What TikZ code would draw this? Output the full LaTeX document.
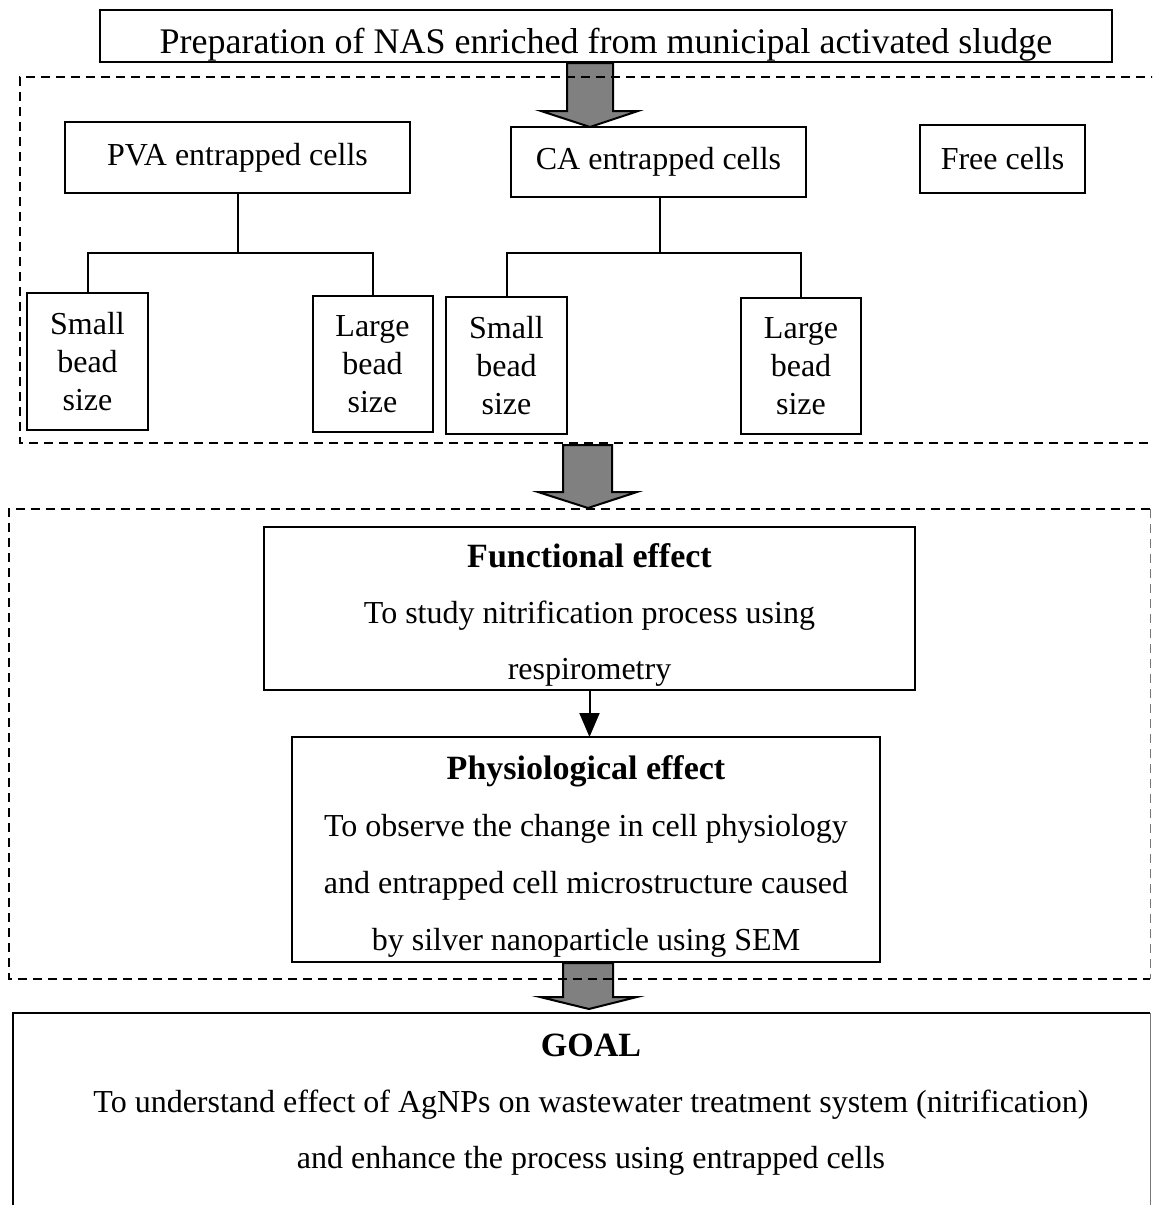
\documentclass[tikz,border=0pt]{standalone}
\usepackage{fontspec}
\setmainfont{Liberation Serif}
\usetikzlibrary{arrows.meta}
\definecolor{arrowgray}{RGB}{128,128,128}
\definecolor{edgegray}{RGB}{120,120,120}
\begin{document}
\begin{tikzpicture}[x=1pt,y=-1pt,
  rbox/.style={draw,line width=2pt,inner sep=0pt,outer sep=0pt,align=center,font=\fontsize{32}{38}\selectfont},
  plain/.style={inner sep=0pt,outer sep=0pt,align=center},
  dashframe/.style={dash pattern=on 9pt off 6pt,line width=1.8pt},
  blockarrow/.style={fill=arrowgray,draw=black,line width=2pt,line join=miter},
  tree/.style={line width=2pt},
  head/.style={font=\fontsize{34}{56}\selectfont\bfseries},
]
\useasboundingbox (0,0) rectangle (1152,1205);
\fill[white] (0,0) rectangle (1152,1205);
\clip (0,0) rectangle (1152,1205);

% block arrows
\draw[blockarrow] (567,63) -- (613,63) -- (613,111) -- (638,111) -- (590,127) -- (541,111) -- (567,111) -- cycle;
\draw[blockarrow] (563,445) -- (612,445) -- (612,492) -- (637,492) -- (588,508) -- (538,492) -- (563,492) -- cycle;
\draw[blockarrow] (563,963) -- (613,963) -- (613,997) -- (637,997) -- (589,1009) -- (540,997) -- (563,997) -- cycle;

% top box
\node[rbox,minimum width=1012pt,minimum height=52pt] (top) at (606,36) {};
\node[plain,font=\fontsize{36}{40}\selectfont] (toptxt) at (606,45) {Preparation of NAS enriched from municipal activated sludge};

% entrapment boxes
\node[rbox,minimum width=345pt,minimum height=71pt] (pva) at (237.5,157.5) {PVA entrapped cells};
\node[rbox,minimum width=295pt,minimum height=70pt] (ca) at (658.5,162) {CA entrapped cells};
\node[rbox,minimum width=165pt,minimum height=68pt] (free) at (1002.5,159) {Free cells};

\node[rbox,minimum width=121pt,minimum height=137pt] (s1) at (87.5,361.5) {Small\\bead\\size};
\node[rbox,minimum width=120pt,minimum height=136pt] (l1) at (372.5,364) {Large\\bead\\size};
\node[rbox,minimum width=121pt,minimum height=137pt] (s2) at (506.5,365.5) {Small\\bead\\size};
\node[rbox,minimum width=120pt,minimum height=136pt] (l2) at (801,366) {Large\\bead\\size};

% trees
\coordinate (j1) at (237.5,253);
\coordinate (j2) at (660,253);
\draw[tree] (pva.south) -- (j1);
\draw[tree] (s1.north) |- (j1) -| (l1.north);
\draw[tree] (ca.south -| j2) -- (j2);
\draw[tree] (s2.north) |- (j2) -| (l2.north);

% functional & physiological
\node[rbox,minimum width=651pt,minimum height=163pt] (func) at (589.5,608.5) {};
\node[plain,font=\fontsize{32}{56}\selectfont] (functxt) at (589.5,614.5)
  {{\bfseries\fontsize{34}{56}\selectfont Functional effect}\\To study nitrification process using\\respirometry};
\node[rbox,minimum width=588pt,minimum height=225pt] (phys) at (586,849.5) {};
\node[plain,font=\fontsize{32}{57}\selectfont] (physTxt) at (586,856)
  {{\bfseries\fontsize{34}{57}\selectfont Physiological effect}\\To observe the change in cell physiology\\and entrapped cell microstructure caused\\by silver nanoparticle using SEM};
\draw[line width=2pt,-{Triangle[length=24pt,width=20pt]}] (func.south) -- (func.south |- phys.north);

% goal
\node[inner sep=0pt,outer sep=0pt,minimum width=1137pt,minimum height=260pt] (goal) at (581.5,1143) {};
\draw[line width=2pt] (goal.south west) -- (goal.north west) -- (goal.north east);
\draw[edgegray,line width=1pt] (goal.north east) -- (goal.south east);
\node[plain,font=\fontsize{32}{56}\selectfont] (goaltxt) at (591,1104.5)
  {{\bfseries\fontsize{34}{56}\selectfont GOAL}\\To understand effect of AgNPs on wastewater treatment system (nitrification)\\and enhance the process using entrapped cells};

% dashed frames
\draw[dashframe] (1160,77) -- (20,77) -- (20,443) -- (1160,443);
\draw[dashframe] (1150,509) -- (9,509) -- (9,979) -- (1150,979);
\draw[dashframe,edgegray,line width=1pt] (1150,509) -- (1150,979);
\end{tikzpicture}
\end{document}
